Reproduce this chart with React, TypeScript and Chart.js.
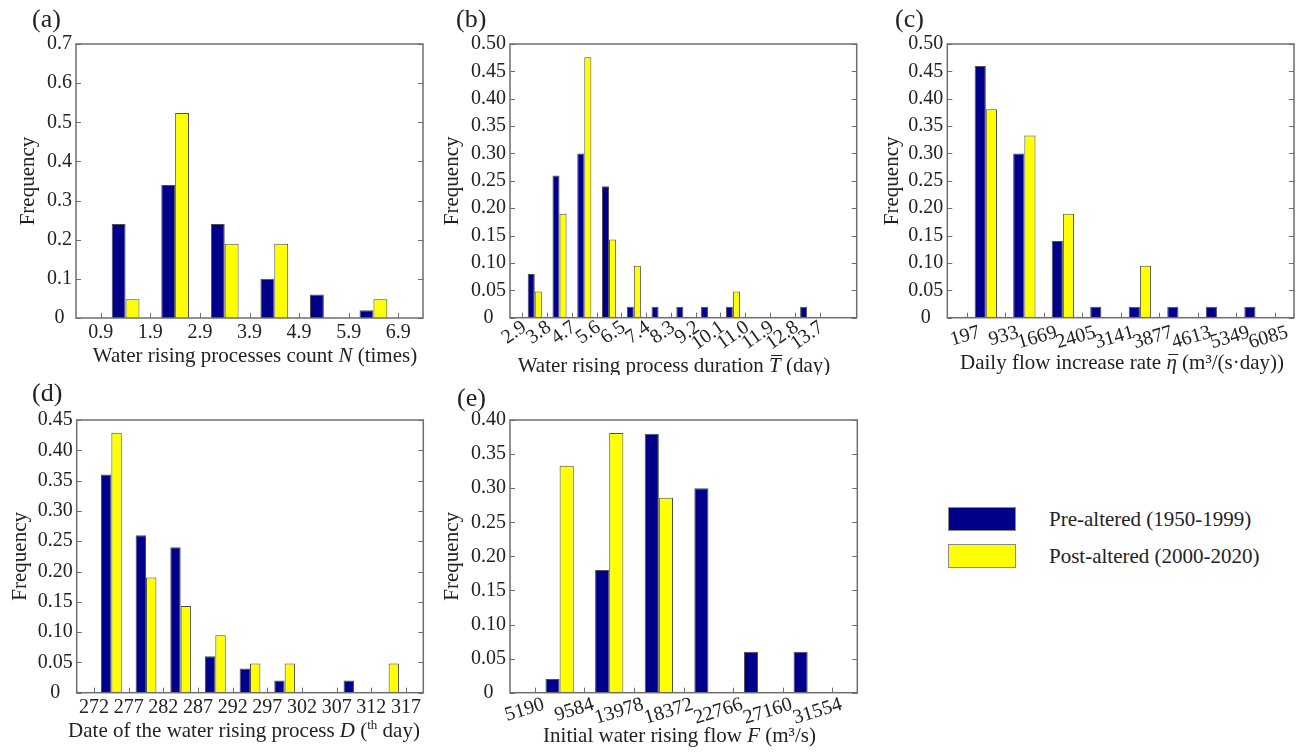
import React, { useEffect, useRef } from 'react';
import { Chart, registerables } from 'chart.js';

Chart.register(...registerables);

const FONT = '"Liberation Serif", "Times New Roman", serif';
const TEXT = '#222222';
const BLUE = '#00008B';
const YELLOW = '#FFFF00';
const BAR_BORDER = '#4d4d4d';
const FRAME = '#6e6e6e';

const SERIES_PRE = 'Pre-altered (1950-1999)';
const SERIES_POST = 'Post-altered (2000-2020)';

// (a) Water rising processes count N
const edgesA = ['0.9', '1.9', '2.9', '3.9', '4.9', '5.9', '6.9'];
const preA = [0.24, 0.34, 0.24, 0.1, 0.06, 0.02];
const postA = [0.048, 0.524, 0.19, 0.19, 0, 0.048];
const yTicksA = [0, 0.1, 0.2, 0.3, 0.4, 0.5, 0.6, 0.7];

// (b) Water rising process duration
const edgesB = ['2.9', '3.8', '4.7', '5.6', '6.5', '7.4', '8.3', '9.2', '10.1', '11.0', '11.9', '12.8', '13.7'];
const preB = [0.08, 0.26, 0.3, 0.24, 0.02, 0.02, 0.02, 0.02, 0.02, 0, 0, 0.02];
const postB = [0.048, 0.19, 0.476, 0.143, 0.095, 0, 0, 0, 0.048, 0, 0, 0];
const yTicksB = [0, 0.05, 0.1, 0.15, 0.2, 0.25, 0.3, 0.35, 0.4, 0.45, 0.5];

// (c) Daily flow increase rate
const edgesC = ['197', '933', '1669', '2405', '3141', '3877', '4613', '5349', '6085'];
const preC = [0.46, 0.3, 0.14, 0.02, 0.02, 0.02, 0.02, 0.02];
const postC = [0.381, 0.333, 0.19, 0, 0.095, 0, 0, 0];
const yTicksC = [0, 0.05, 0.1, 0.15, 0.2, 0.25, 0.3, 0.35, 0.4, 0.45, 0.5];

// (d) Date of the water rising process
const edgesD = ['272', '277', '282', '287', '292', '297', '302', '307', '312', '317'];
const preD = [0.36, 0.26, 0.24, 0.06, 0.04, 0.02, 0, 0.02, 0];
const postD = [0.429, 0.19, 0.143, 0.095, 0.048, 0.048, 0, 0, 0.048];
const yTicksD = [0, 0.05, 0.1, 0.15, 0.2, 0.25, 0.3, 0.35, 0.4, 0.45];

// (e) Initial water rising flow
const edgesE = ['5190', '9584', '13978', '18372', '22766', '27160', '31554'];
const preE = [0.02, 0.18, 0.38, 0.3, 0.06, 0.06];
const postE = [0.333, 0.381, 0.286, 0, 0, 0];
const yTicksE = [0, 0.05, 0.1, 0.15, 0.2, 0.25, 0.3, 0.35, 0.4];

type Seg = { t: string; it?: boolean; sup?: boolean; bar?: number };

interface Panel {
  key: string;
  left: number; top: number; w: number; h: number;
  padTop: number; padRight: number; yAxisW: number; xAxisH: number;
  edges: string[]; pre: number[]; post: number[];
  xMax: number; rot: number; tickPad: number; labelOffset: number;
  yTicks: number[]; dec: number; cat: number;
  label: string; labelX: number; labelY: number;
  yTitleX: number;
  xTitle: Seg[]; xTitleCx: number; xTitleY: number;
}

const panels: Panel[] = [
  {
    key: 'a', left: 0, top: 0, w: 440, h: 375,
    padTop: 44, padRight: 17, yAxisW: 76, xAxisH: 57,
    edges: edgesA, pre: preA, post: postA,
    xMax: 6.5, rot: 0, tickPad: 3, labelOffset: 0,
    yTicks: yTicksA, dec: 1, cat: 0.56,
    label: '(a)', labelX: 32, labelY: 20, yTitleX: 28,
    xTitle: [{ t: 'Water rising processes count ' }, { t: 'N', it: true }, { t: ' (times)' }],
    xTitleCx: 255, xTitleY: 362,
  },
  {
    key: 'b', left: 440, top: 0, w: 430, h: 375,
    padTop: 44, padRight: 13.3, yAxisW: 70, xAxisH: 57.3,
    edges: edgesB, pre: preB, post: postB,
    xMax: 13.5, rot: 35, tickPad: -2, labelOffset: 2,
    yTicks: yTicksB, dec: 2, cat: 0.57,
    label: '(b)', labelX: 16, labelY: 20, yTitleX: 12.7,
    xTitle: [{ t: 'Water rising process duration ' }, { t: 'T', it: true, bar: 17 }, { t: ' (day)' }],
    xTitleCx: 234, xTitleY: 372,
  },
  {
    key: 'c', left: 880, top: 0, w: 426, h: 375,
    padTop: 44, padRight: 12, yAxisW: 67.3, xAxisH: 57.3,
    edges: edgesC, pre: preC, post: postC,
    xMax: 8.5, rot: 16, tickPad: 3, labelOffset: 13,
    yTicks: yTicksC, dec: 2, cat: 0.58,
    label: '(c)', labelX: 15, labelY: 20, yTitleX: 12.5,
    xTitle: [{ t: 'Daily flow increase rate ' }, { t: 'η', it: true, bar: 15 }, { t: ' (m³/(s·day))' }],
    xTitleCx: 242, xTitleY: 369,
  },
  {
    key: 'd', left: 0, top: 375, w: 440, h: 377,
    padTop: 45, padRight: 16.7, yAxisW: 76.7, xAxisH: 59.3,
    edges: edgesD, pre: preD, post: postD,
    xMax: 9.5, rot: 0, tickPad: 3, labelOffset: 0,
    yTicks: yTicksD, dec: 2, cat: 0.6,
    label: '(d)', labelX: 32, labelY: 19, yTitleX: 20,
    xTitle: [{ t: 'Date of the water rising process ' }, { t: 'D', it: true }, { t: ' (' }, { t: 'th', sup: true }, { t: ' day)' }],
    xTitleCx: 244, xTitleY: 362,
  },
  {
    key: 'e', left: 440, top: 375, w: 430, h: 377,
    padTop: 45, padRight: 12.7, yAxisW: 70, xAxisH: 59.3,
    edges: edgesE, pre: preE, post: postE,
    xMax: 6.5, rot: 17, tickPad: 0, labelOffset: 9,
    yTicks: yTicksE, dec: 2, cat: 0.57,
    label: '(e)', labelX: 17, labelY: 24, yTitleX: 12.7,
    xTitle: [{ t: 'Initial water rising flow ' }, { t: 'F', it: true }, { t: ' (m³/s)' }],
    xTitleCx: 239.5, xTitleY: 367,
  },
];

function segFont(s: Seg) {
  return `${s.it ? 'italic ' : ''}${s.sup ? 13 : 21}px ${FONT}`;
}

function decorPlugin(p: Panel) {
  return {
    id: 'decor' + p.key,
    afterDraw(chart: any) {
      const ctx: CanvasRenderingContext2D = chart.ctx;
      const { left, right, top, bottom } = chart.chartArea;
      const xs = chart.scales.x;
      const ys = chart.scales.y;
      ctx.save();
      // inward tick marks
      ctx.strokeStyle = FRAME;
      ctx.lineWidth = 1;
      ctx.beginPath();
      for (const t of xs.ticks) {
        const px = Math.round(xs.getPixelForValue(t.value)) + 0.5;
        ctx.moveTo(px, bottom);
        ctx.lineTo(px, bottom - 5);
      }
      for (const t of ys.ticks) {
        const py = Math.round(ys.getPixelForValue(t.value)) + 0.5;
        ctx.moveTo(left, py);
        ctx.lineTo(left + 5, py);
        ctx.moveTo(right, py);
        ctx.lineTo(right - 5, py);
      }
      ctx.stroke();
      // frame
      ctx.lineWidth = 1.5;
      ctx.strokeRect(left, top, right - left, bottom - top);

      ctx.fillStyle = TEXT;
      // panel label
      ctx.font = `26px ${FONT}`;
      ctx.textAlign = 'left';
      ctx.textBaseline = 'middle';
      ctx.fillText(p.label, p.labelX, p.labelY);

      // y title
      ctx.save();
      ctx.translate(p.yTitleX, (top + bottom) / 2);
      ctx.rotate(-Math.PI / 2);
      ctx.font = `21px ${FONT}`;
      ctx.textAlign = 'center';
      ctx.textBaseline = 'middle';
      ctx.fillText('Frequency', 0, 0);
      ctx.restore();

      // x title with mixed styles
      ctx.textAlign = 'left';
      ctx.textBaseline = 'alphabetic';
      let total = 0;
      const widths = p.xTitle.map((s) => {
        ctx.font = segFont(s);
        const w = ctx.measureText(s.t).width;
        total += w;
        return w;
      });
      let x = p.xTitleCx - total / 2;
      ctx.strokeStyle = TEXT;
      ctx.lineWidth = 1;
      p.xTitle.forEach((s, i) => {
        ctx.font = segFont(s);
        const y = s.sup ? p.xTitleY - 8 : p.xTitleY;
        ctx.fillText(s.t, x, y);
        if (s.bar) {
          ctx.beginPath();
          ctx.moveTo(x + 2, p.xTitleY - s.bar + 0.5);
          ctx.lineTo(x + widths[i] + 1.5, p.xTitleY - s.bar + 0.5);
          ctx.stroke();
        }
        x += widths[i];
      });
      ctx.restore();
    },
  };
}

function makeConfig(p: Panel): any {
  const tickFont = { family: FONT, size: 20 };
  return {
    type: 'bar',
    data: {
      datasets: [
        {
          label: SERIES_PRE,
          data: p.pre.map((v, i) => ({ x: i + 0.5, y: v })),
          backgroundColor: BLUE,
          borderColor: BAR_BORDER,
          borderWidth: 1,
          categoryPercentage: p.cat,
          barPercentage: 1,
        },
        {
          label: SERIES_POST,
          data: p.post.map((v, i) => ({ x: i + 0.5, y: v })),
          backgroundColor: YELLOW,
          borderColor: BAR_BORDER,
          borderWidth: 1,
          categoryPercentage: p.cat,
          barPercentage: 1,
        },
      ],
    },
    options: {
      responsive: false,
      animation: false,
      devicePixelRatio: 1,
      layout: { padding: { top: p.padTop, right: p.padRight, left: 0, bottom: 0 } },
      plugins: { legend: { display: false }, tooltip: { enabled: false } },
      scales: {
        x: {
          type: 'linear',
          min: -0.5,
          max: p.xMax,
          offset: false,
          afterBuildTicks: (s: any) => {
            s.ticks = p.edges.map((_, i) => ({ value: i }));
          },
          afterFit: (s: any) => {
            s.height = p.xAxisH;
          },
          ticks: {
            autoSkip: false,
            minRotation: p.rot,
            maxRotation: p.rot,
            padding: p.tickPad,
            labelOffset: p.labelOffset,
            font: tickFont,
            color: TEXT,
            callback: (v: number) => p.edges[Math.round(v)] ?? '',
          },
          grid: { display: false, drawTicks: false, offset: false },
          border: { display: false },
        },
        y: {
          type: 'linear',
          min: 0,
          max: p.yTicks[p.yTicks.length - 1],
          afterBuildTicks: (s: any) => {
            s.ticks = p.yTicks.map((v) => ({ value: v }));
          },
          afterFit: (s: any) => {
            s.width = p.yAxisW;
          },
          ticks: {
            crossAlign: 'center',
            padding: 4,
            font: tickFont,
            color: TEXT,
            callback: (v: number) => (v === 0 ? '0' : v.toFixed(p.dec)),
          },
          grid: { display: false, drawTicks: false },
          border: { display: false },
        },
      },
    },
    plugins: [decorPlugin(p)],
  };
}

function PanelChart({ p }: { p: Panel }) {
  const ref = useRef<HTMLCanvasElement>(null);
  useEffect(() => {
    const chart = new Chart(ref.current as HTMLCanvasElement, makeConfig(p));
    return () => chart.destroy();
  }, [p]);
  return (
    <canvas
      ref={ref}
      width={p.w}
      height={p.h}
      style={{ position: 'absolute', left: p.left, top: p.top, width: p.w, height: p.h }}
    />
  );
}

const legendItems = [
  { label: SERIES_PRE, color: BLUE, top: 507 },
  { label: SERIES_POST, color: YELLOW, top: 544 },
];

export default function App() {
  return (
    <div
      style={{
        position: 'absolute',
        left: 0,
        top: 0,
        width: 1306,
        height: 752,
        background: '#ffffff',
        overflow: 'hidden',
      }}
    >
      {panels.map((p) => (
        <PanelChart key={p.key} p={p} />
      ))}
      {legendItems.map((it) => (
        <React.Fragment key={it.label}>
          <div
            style={{
              position: 'absolute',
              left: 948,
              top: it.top,
              width: 66,
              height: 22,
              background: it.color,
              border: '1px solid #8a8a8a',
            }}
          />
          <div
            style={{
              position: 'absolute',
              left: 1049,
              top: it.top,
              height: 24,
              lineHeight: '24px',
              fontFamily: FONT,
              fontSize: 21,
              color: TEXT,
              whiteSpace: 'nowrap',
            }}
          >
            {it.label}
          </div>
        </React.Fragment>
      ))}
    </div>
  );
}
